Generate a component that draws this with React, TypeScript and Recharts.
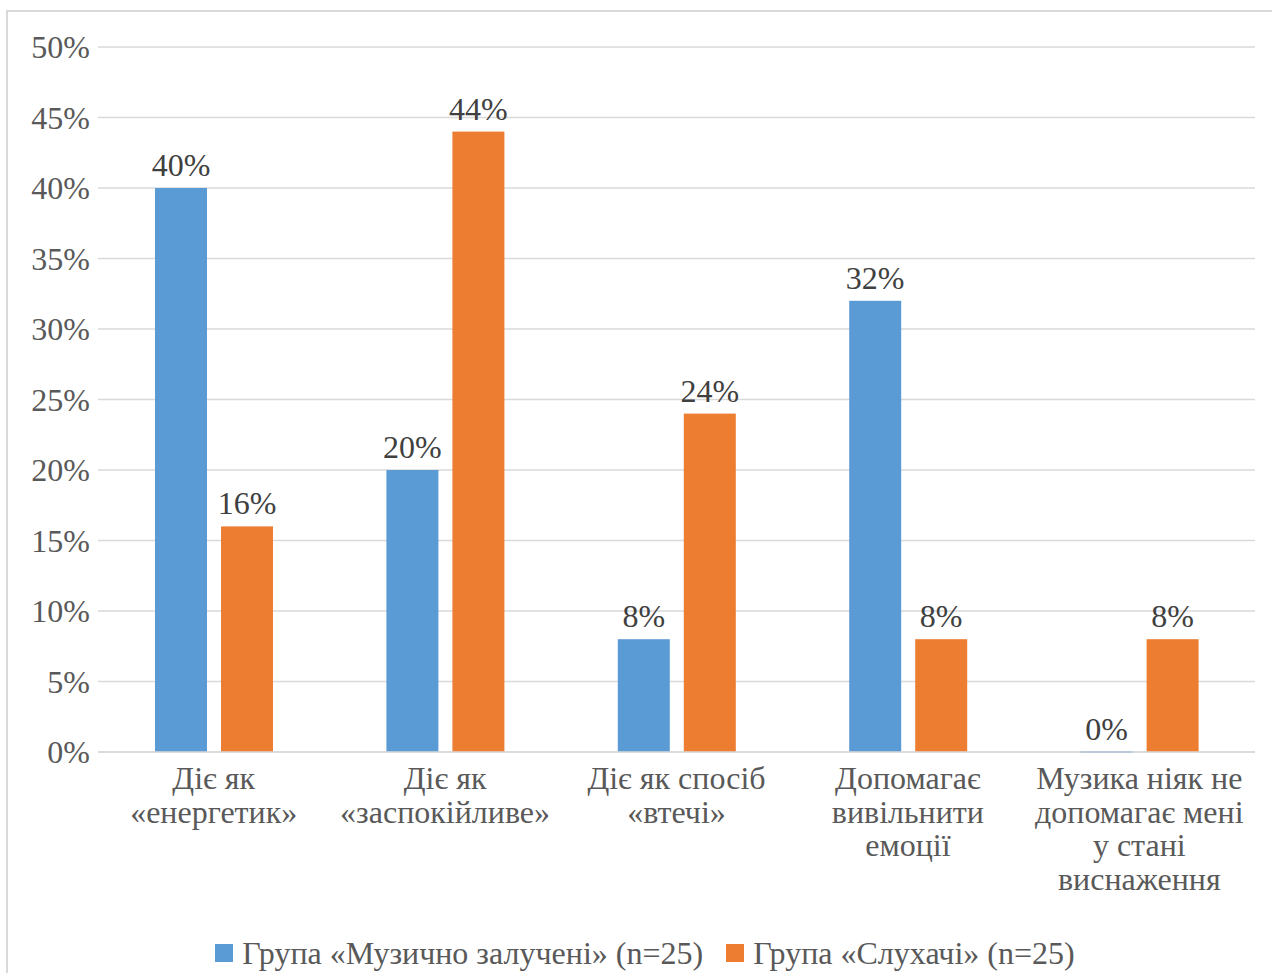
import { BarChart, Bar, XAxis, YAxis, CartesianGrid, LabelList, Legend } from 'recharts';

// Categories are split into lines the way they wrap under the axis
const categories = [
  ['Діє як', '«енергетик»'],
  ['Діє як', '«заспокійливе»'],
  ['Діє як спосіб', '«втечі»'],
  ['Допомагає', 'вивільнити', 'емоції'],
  ['Музика ніяк не', 'допомагає мені', 'у стані', 'виснаження'],
];
const engaged = [40, 20, 8, 32, 0];
const listeners = [16, 44, 24, 8, 8];
const seriesNames = ['Група «Музично залучені» (n=25)', 'Група «Слухачі» (n=25)'];
const yTicks = [0, 5, 10, 15, 20, 25, 30, 35, 40, 45, 50];

const FONT = '"Liberation Serif", "Times New Roman", serif';
const FONT_SIZE = 32;
const TEXT = '#595959';
const LABEL = '#404040';
const GRID = '#d9d9d9';
const BLUE = '#5b9bd5';
const ORANGE = '#ed7d31';

const data = categories.map((lines, i) => ({
  name: lines.join('\n'),
  engaged: engaged[i],
  listeners: listeners[i],
}));

function CategoryTick({ x, y, payload }: any) {
  const lines = String(payload.value).split('\n');
  return (
    <text x={x} y={y} textAnchor="middle" fill={TEXT} fontSize={FONT_SIZE} fontFamily={FONT}>
      {lines.map((line, i) => (
        <tspan key={i} x={x} dy={i === 0 ? 37 : 33.5}>
          {line}
        </tspan>
      ))}
    </text>
  );
}

// zero values still get a thin line on the baseline
function FlatBar({ x, y, width, height, fill }: any) {
  if (!height) return <rect x={x} y={y - 1} width={width} height={2} fill={fill} />;
  return <rect x={x} y={y} width={width} height={height} fill={fill} />;
}

function LegendContent({ payload }: any) {
  return (
    <div
      style={{
        display: 'flex',
        justifyContent: 'center',
        alignItems: 'center',
        gap: 23,
        fontFamily: FONT,
        fontSize: FONT_SIZE,
        color: TEXT,
        lineHeight: '40px',
      }}
    >
      {(payload || []).map((entry: any) => (
        <div key={entry.value} style={{ display: 'flex', alignItems: 'center' }}>
          <span style={{ width: 18, height: 18, background: entry.color, marginRight: 9, display: 'inline-block' }} />
          <span>{entry.value}</span>
        </div>
      ))}
    </div>
  );
}

export default function App() {
  return (
    <div
      style={{
        position: 'absolute',
        left: 0,
        top: 0,
        width: 1272,
        height: 973,
        overflow: 'hidden',
        background: '#fff',
      }}
    >
      <div
        style={{
          position: 'absolute',
          left: 6,
          top: 10,
          width: 1300,
          height: 1000,
          border: `2px solid ${GRID}`,
        }}
      />
      <div style={{ position: 'absolute', left: 0, top: 0 }}>
        <BarChart
          width={1272}
          height={973}
          data={data}
          margin={{ top: 47, right: 17, left: 0, bottom: 71 }}
          barSize={52}
          barGap={14}
        >
          <CartesianGrid vertical={false} stroke={GRID} strokeWidth={1.5} />
          <XAxis
            dataKey="name"
            height={150}
            interval={0}
            tick={<CategoryTick />}
            tickLine={false}
            tickSize={0}
            tickMargin={0}
            axisLine={{ stroke: GRID, strokeWidth: 1.5 }}
          />
          <YAxis
            domain={[0, 50]}
            ticks={yTicks}
            width={98}
            tickFormatter={(v) => `${v}%`}
            tick={{ fill: TEXT, fontSize: FONT_SIZE, fontFamily: FONT }}
            tickLine={false}
            tickSize={0}
            tickMargin={8}
            axisLine={false}
          />
          <Legend
            layout="horizontal"
            verticalAlign="middle"
            align="center"
            wrapperStyle={{ top: 933, left: 0, width: 1290 }}
            content={<LegendContent />}
          />
          <Bar dataKey="engaged" name={seriesNames[0]} fill={BLUE} shape={<FlatBar />} isAnimationActive={false}>
            <LabelList
              dataKey="engaged"
              position="top"
              offset={12}
              formatter={(v: any) => `${v}%`}
              style={{ fill: LABEL, fontSize: FONT_SIZE, fontFamily: FONT }}
            />
          </Bar>
          <Bar dataKey="listeners" name={seriesNames[1]} fill={ORANGE} shape={<FlatBar />} isAnimationActive={false}>
            <LabelList
              dataKey="listeners"
              position="top"
              offset={12}
              formatter={(v: any) => `${v}%`}
              style={{ fill: LABEL, fontSize: FONT_SIZE, fontFamily: FONT }}
            />
          </Bar>
        </BarChart>
      </div>
    </div>
  );
}
